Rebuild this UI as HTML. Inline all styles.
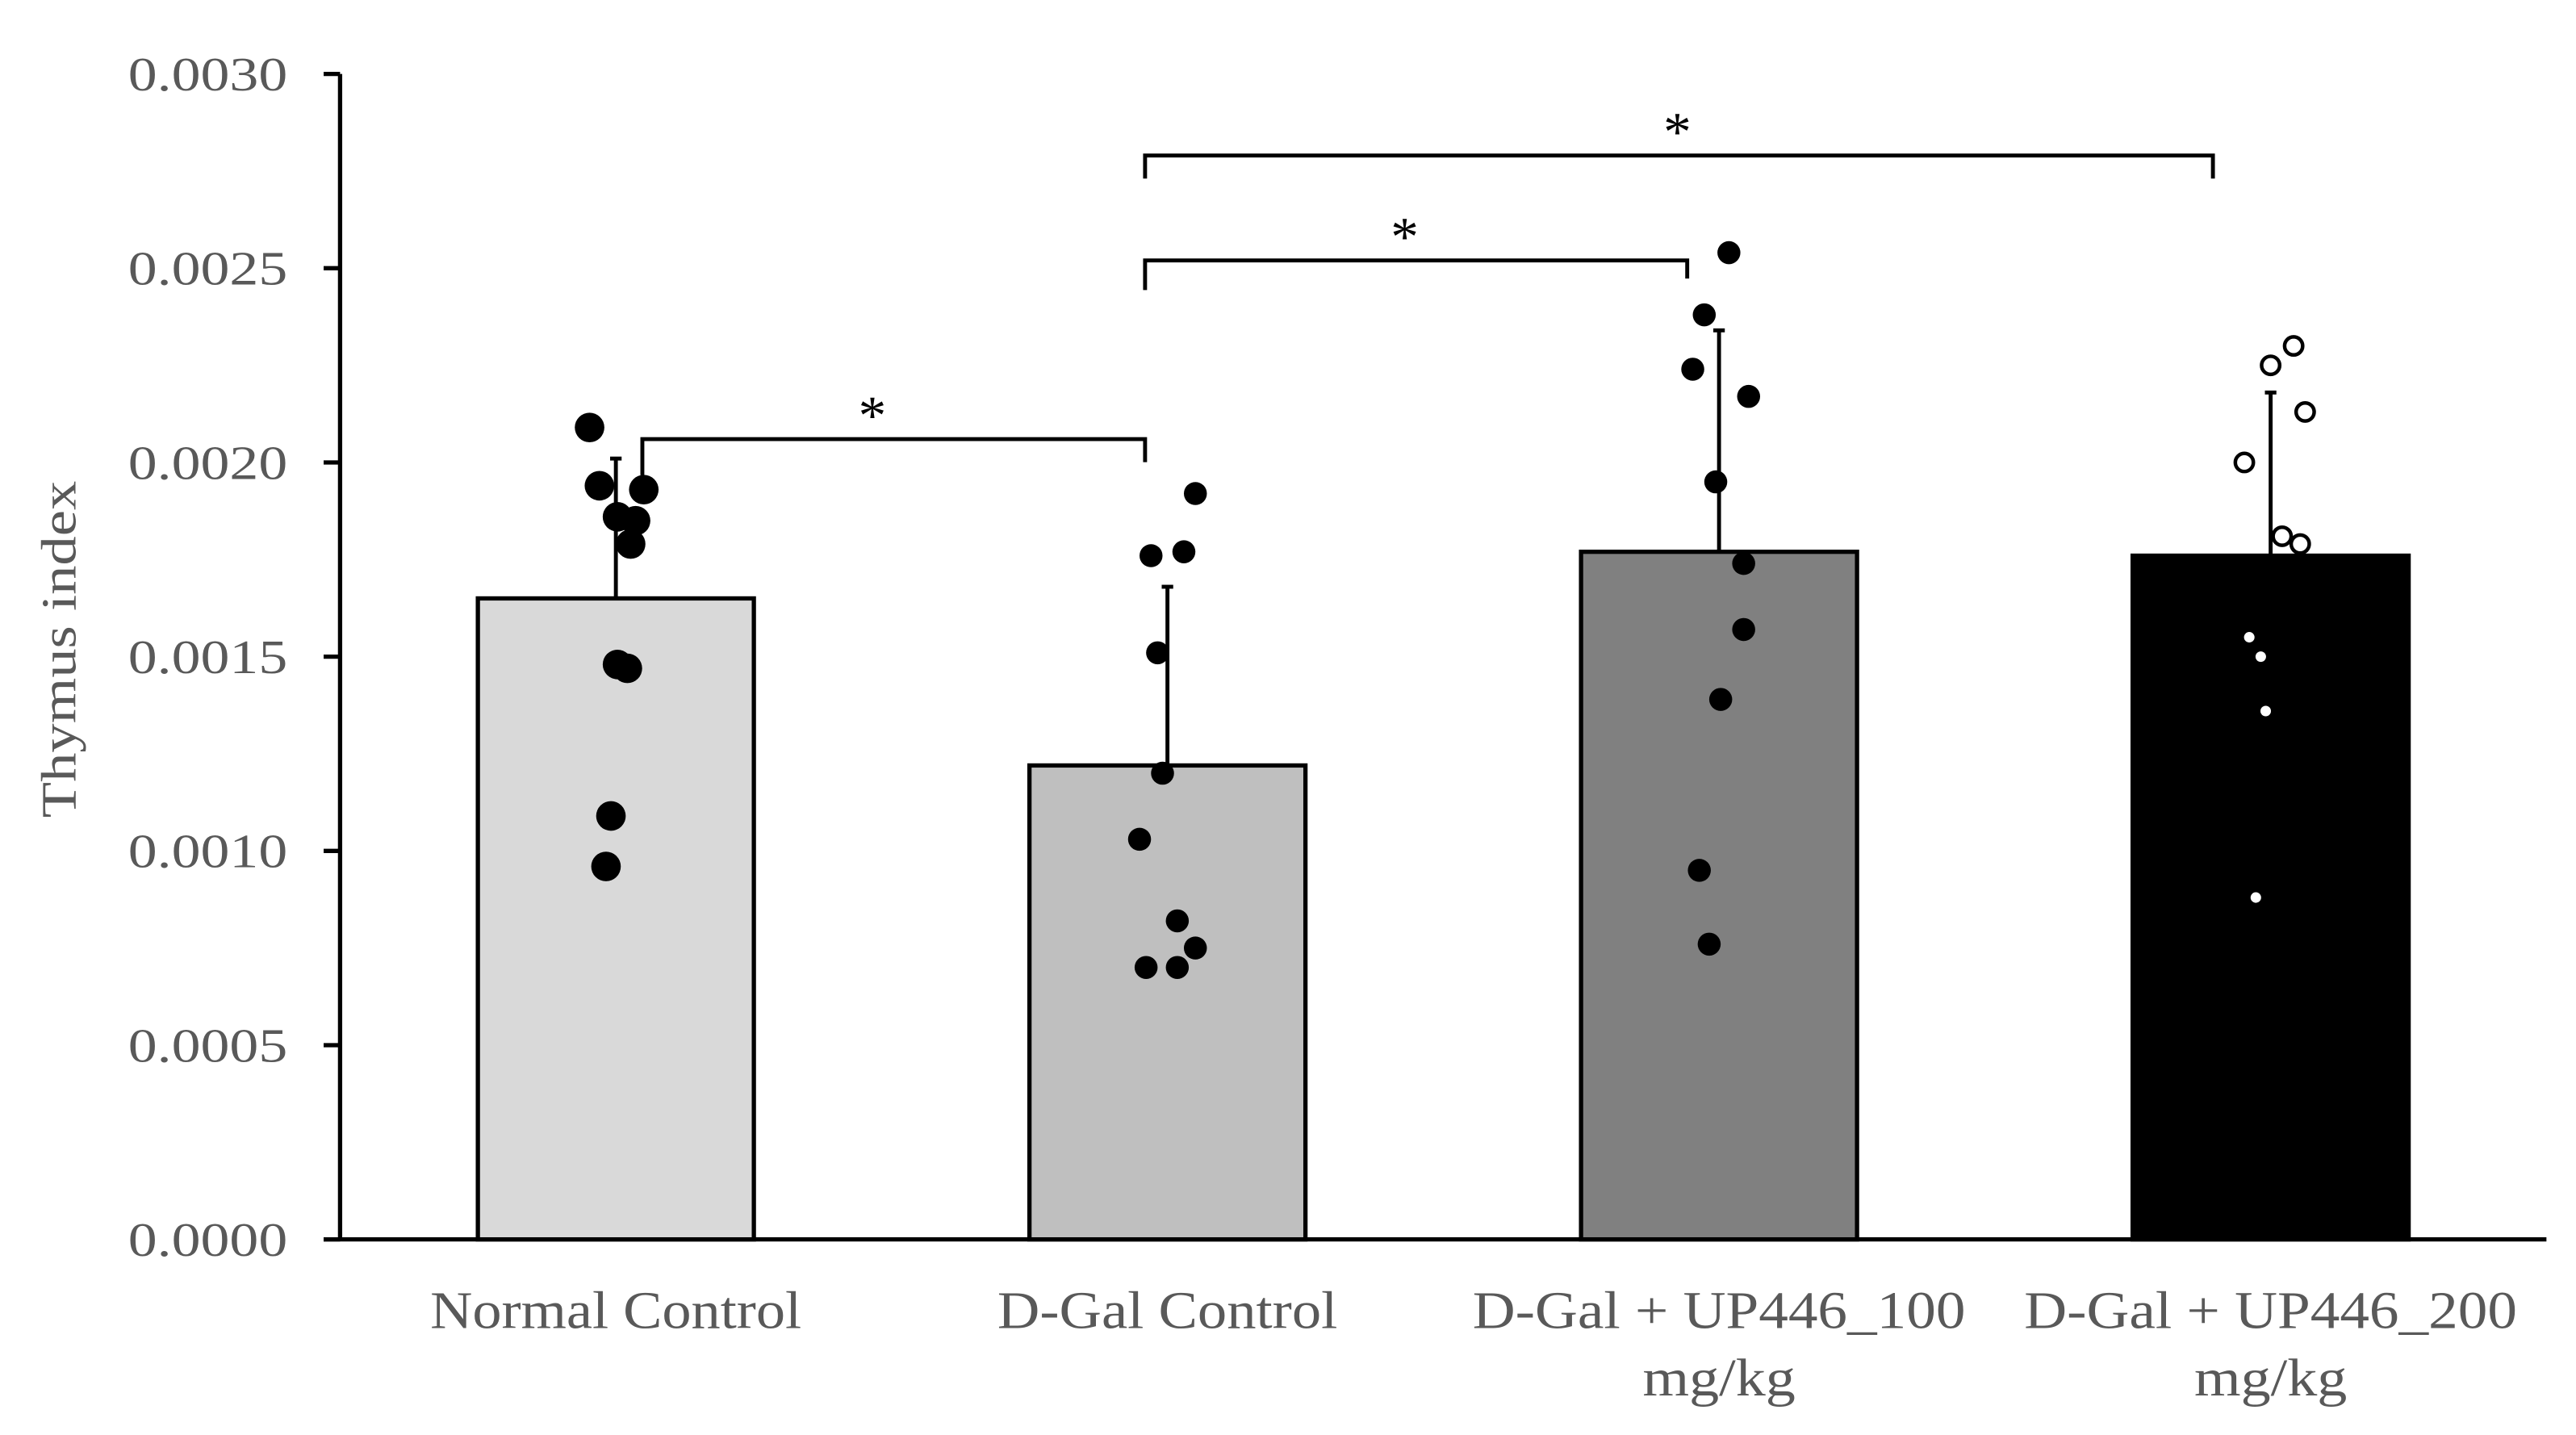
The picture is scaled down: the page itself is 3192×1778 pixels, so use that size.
<!DOCTYPE html>
<html><head><meta charset="utf-8"><style>
html,body{margin:0;padding:0;background:#fff;}
svg{display:block;}
</style></head><body>
<svg id="chart" width="3192" height="1778" viewBox="0 0 1568 873" preserveAspectRatio="none" xmlns="http://www.w3.org/2000/svg"></svg>
<script>
const categories = ["Normal Control", "D-Gal Control", "D-Gal + UP446_100|mg/kg", "D-Gal + UP446_200|mg/kg"];
const means = [0.00165, 0.00122, 0.00177, 0.00176];
const errorTops = [0.00201, 0.00168, 0.00234, 0.00218];
const barFills = ["#d9d9d9", "#bfbfbf", "#808080", "#000000"];
const yTicks = [0, 0.0005, 0.0010, 0.0015, 0.0020, 0.0025, 0.0030];
const yTickLabels = ["0.0000","0.0005","0.0010","0.0015","0.0020","0.0025","0.0030"];
const pointsNC = [0.00209,0.00194,0.00193,0.00186,0.00185,0.00179,0.00148,0.00147,0.00109,0.00096];
const jitterNC = [-16,-10,17,1,12,9,1,7,-3,-6];
const pointsDG = [0.00192,0.00176,0.00177,0.00151,0.00120,0.00103,0.00082,0.00075,0.00070,0.00070];
const jitterDG = [17,-10,10,-6,-3,-17,6,17,-13,6];
const pointsU100 = [0.00254,0.00238,0.00224,0.00217,0.00195,0.00174,0.00157,0.00139,0.00095,0.00076];
const jitterU100 = [6,-9,-16,18,-2,15,15,1,-12,-6];
const pointsU200 = [0.00230,0.00225,0.00213,0.00200,0.00181,0.00179,0.00155,0.00150,0.00136,0.00088];
const jitterU200 = [14,0,21,-16,7,18,-13,-6,-3,-9];
const brackets = [[0,1],[1,2],[1,3]];
const bracketLevels = [0.00206, 0.00252, 0.00279];

const svg = document.getElementById('chart');
const NS = "http://www.w3.org/2000/svg";
const X0 = 207, X1 = 1550, Y0 = 754, YT = 45, YMAX = 0.003;
const band = (X1 - X0) / 4;
function yScale(v){ return Y0 - v / YMAX * (Y0 - YT); }
function xCenter(i){ return X0 + band * (i + 0.5); }
function mk(tag, attrs){ const e = document.createElementNS(NS, tag); for (const k in attrs) e.setAttribute(k, attrs[k]); svg.appendChild(e); return e; }
const serif = '"Liberation Serif", serif';

// bars
means.forEach((m,i)=>{
  const cx = xCenter(i), w = 168;
  const r = mk('rect',{x:cx-w/2,y:yScale(m),width:w,height:Y0-yScale(m),fill:barFills[i],stroke:'#000','stroke-width':2.6});
  
  
  const e = mk('line',{x1:cx,x2:cx,y1:yScale(m),y2:yScale(errorTops[i]),stroke:'#000','stroke-width':2.4});
  
  
  const c = mk('line',{x1:cx-3.5,x2:cx+3.5,y1:yScale(errorTops[i]),y2:yScale(errorTops[i]),stroke:'#000','stroke-width':2.4});
  
  
});

// points
function drawPts(vals, jit, i, style){
  vals.forEach((v,k)=>{
    let a;
    if (style==='big') a={r:9,fill:'#000'};
    else if (style==='mid') a={r:7,fill:'#000'};
    else if (style==='open') a={r:5.5,fill:'#fff',stroke:'#000','stroke-width':2.2};
    a.cx = xCenter(i)+jit[k]; a.cy = yScale(v);
    if (style==='open' && v < means[i]-0.0001) { a = {cx:a.cx,cy:a.cy,r:3.2,fill:'#fff'}; }
    const p = mk('circle', a);
    
    
  });
}
drawPts(pointsNC, jitterNC, 0, 'big');
drawPts(pointsDG, jitterDG, 1, 'mid');
drawPts(pointsU100, jitterU100, 2, 'mid');
drawPts(pointsU200, jitterU200, 3, 'open');

// axes
const ya = mk('line',{x1:X0,x2:X0,y1:YT,y2:Y0,stroke:'#000','stroke-width':2.6});


const xa = mk('line',{x1:X0-10,x2:X1,y1:Y0,y2:Y0,stroke:'#000','stroke-width':2.6});


yTicks.forEach((t,i)=>{
  const tk = mk('line',{x1:X0-10,x2:X0,y1:yScale(t),y2:yScale(t),stroke:'#000','stroke-width':2.6});
  
  
  const tx = mk('text',{x:175,y:yScale(t)+10,'text-anchor':'end','font-family':serif,'font-size':29,fill:'#595959',textLength:97,lengthAdjust:'spacingAndGlyphs'});
  tx.textContent = yTickLabels[i];
  
  
});
const yt = mk('text',{x:0,y:0,transform:'translate(46,395) rotate(-90)','text-anchor':'middle','font-family':serif,'font-size':30,fill:'#595959',textLength:205,lengthAdjust:'spacingAndGlyphs'});
yt.textContent = 'Thymus index';



// category labels
const labelW = [[226],[207],[300,93],[300,93]];
categories.forEach((c,i)=>{
  c.split('|').forEach((line,j)=>{
    const t = mk('text',{x:xCenter(i),y:808+j*41,'text-anchor':'middle','font-family':serif,'font-size':32,fill:'#595959',textLength:labelW[i][j],lengthAdjust:'spacingAndGlyphs'});
    t.textContent = line;
    
    
  });
});

// significance brackets
const bracketX = [[391,697],[697,1027],[697,1347]];
const bracketDrops = [[22,14],[18,11],[14,14]];
brackets.forEach((b,k)=>{
  const y = yScale(bracketLevels[k]);
  const [xa1, xb1] = bracketX[k];
  const p = mk('path',{d:`M${xa1},${y+bracketDrops[k][0]} V${y} H${xb1} V${y+bracketDrops[k][1]}`,fill:'none',stroke:'#000','stroke-width':2.4});
  
  
  const s = mk('text',{x:[531,855,1021][k],y:y-3,'text-anchor':'middle','font-family':serif,'font-size':34,fill:'#000'});
  s.textContent = '*';
  
  
});
</script>
</body></html>
